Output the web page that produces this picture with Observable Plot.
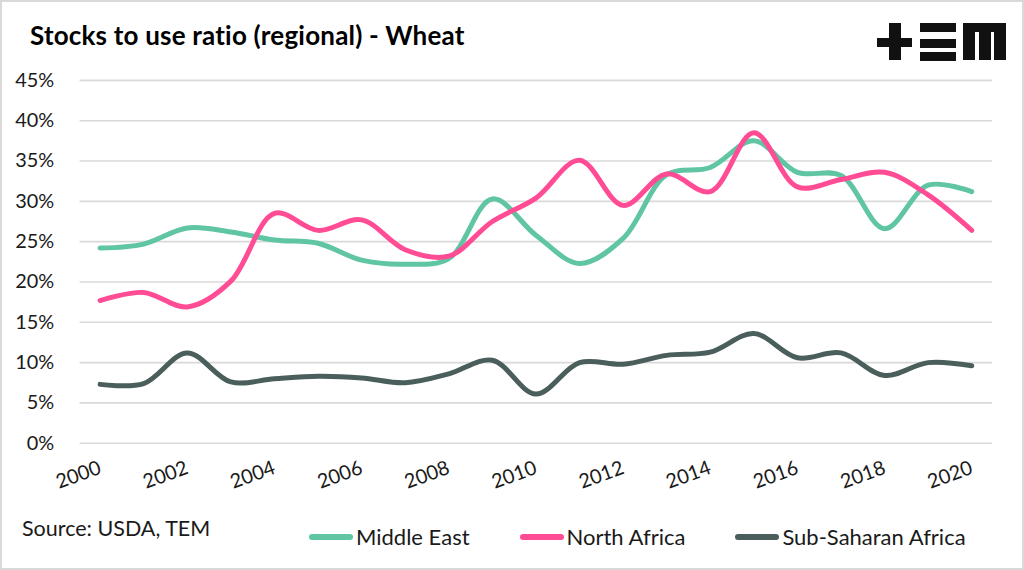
<!DOCTYPE html>
<html>
<head>
<meta charset="utf-8">
<script src="https://cdn.jsdelivr.net/npm/d3@7"></script>
<script src="https://cdn.jsdelivr.net/npm/@observablehq/plot@0.6"></script>
<style>
  html, body { margin: 0; padding: 0; background: #fff; }
  #wrap { position: relative; width: 1024px; height: 570px; box-sizing: border-box; border: 2px solid #d9d9d9; background: #fff; overflow: hidden; font-family: Lato, "Noto Sans", sans-serif; color: #000; }
  #title { position: absolute; left: 28px; top: 17px; font-size: 26px; font-weight: 700; letter-spacing: 0.2px; white-space: nowrap; }
  #logo { position: absolute; left: 0; top: 0; }
  #chart { position: absolute; left: -2px; top: 58px; }
  #source { position: absolute; left: 20px; top: 513px; font-size: 21.5px; color: #1a1a1a; white-space: nowrap; }
  #legend { position: absolute; left: 307px; top: 521px; font-size: 22px; display: flex; align-items: center; color: #1a1a1a; white-space: nowrap; }
  .item { display: flex; align-items: center; margin-right: 50px; }
  .sw { width: 44px; height: 6px; border-radius: 3px; margin-right: 3px; }
</style>
</head>
<body>
<div id="wrap">
  <div id="title">Stocks to use ratio (regional) - Wheat</div>
  <svg id="logo" width="1024" height="70">
    <g fill="#111">
      <rect x="875" y="36" width="35" height="9"/>
      <rect x="887" y="21" width="12" height="37"/>
      <rect x="918" y="21" width="36" height="9"/>
      <rect x="918" y="37" width="36" height="9"/>
      <rect x="918" y="50" width="36" height="9"/>
      <rect x="961" y="21" width="43" height="9"/>
      <rect x="961" y="21" width="12" height="37"/>
      <rect x="977" y="21" width="12" height="37"/>
      <rect x="992" y="21" width="12" height="37"/>
    </g>
  </svg>
  <div id="chart"></div>
  <div id="source">Source: USDA, TEM</div>
  <div id="legend"></div>
</div>
<script>
const years = d3.range(2000, 2021);
const seriesNames = ["Middle East", "North Africa", "Sub-Saharan Africa"];
const seriesColors = ["#5fc5a2", "#ff4c94", "#4a5e5c"];
const middleEast  = [24.2, 24.7, 26.7, 26.2, 25.2, 24.8, 22.7, 22.2, 22.9, 30.3, 25.8, 22.3, 25.4, 33.3, 34.2, 37.5, 33.6, 33.2, 26.6, 32.0, 31.2];
const northAfrica = [17.7, 18.7, 16.9, 20.1, 28.5, 26.4, 27.7, 24.0, 23.2, 27.5, 30.4, 35.1, 29.5, 33.4, 31.2, 38.5, 31.8, 32.7, 33.6, 30.8, 26.4];
const subSaharan  = [7.3, 7.4, 11.2, 7.6, 8.0, 8.3, 8.1, 7.5, 8.6, 10.3, 6.1, 10.0, 9.8, 10.9, 11.3, 13.6, 10.6, 11.2, 8.4, 10.0, 9.6];
const yTicks = [0, 5, 10, 15, 20, 25, 30, 35, 40, 45];
const xTicks = [2000, 2002, 2004, 2006, 2008, 2010, 2012, 2014, 2016, 2018, 2020];

const allSeries = [middleEast, northAfrica, subSaharan];
const rows = [];
allSeries.forEach((vals, i) => vals.forEach((v, j) => rows.push({ year: years[j], value: v / 100, series: seriesNames[i] })));

const chart = Plot.plot({
  width: 1028,
  height: 442,
  marginTop: 20,
  marginBottom: 57,
  marginLeft: 80,
  marginRight: 30,
  style: { fontFamily: "Lato, 'Noto Sans', sans-serif", fontSize: "20px", color: "#1a1a1a", background: "transparent", overflow: "visible" },
  x: { domain: [1999.54, 2020.48], ticks: xTicks, tickFormat: d => String(d), tickRotate: -20, tickSize: 0, tickPadding: 24, label: null },
  y: { domain: [0, 0.45], ticks: yTicks.map(t => t / 100), tickFormat: d3.format(".0%"), tickSize: 0, tickPadding: 26, label: null },
  color: { domain: seriesNames, range: seriesColors },
  marks: [
    Plot.gridY(yTicks.map(t => t / 100), { stroke: "#d9d9d9", strokeOpacity: 1, strokeWidth: 1.6 }),
    Plot.line(rows, { x: "year", y: "value", z: "series", stroke: "series", strokeWidth: 5, curve: "catmull-rom", strokeLinecap: "round", strokeLinejoin: "round" })
  ]
});
document.getElementById("chart").appendChild(chart);

const legend = document.getElementById("legend");
seriesNames.forEach((n, i) => {
  const it = document.createElement("div");
  it.className = "item";
  it.innerHTML = `<span class="sw" style="background:${seriesColors[i]}"></span><span>${n}</span>`;
  legend.appendChild(it);
});
</script>
</body>
</html>
